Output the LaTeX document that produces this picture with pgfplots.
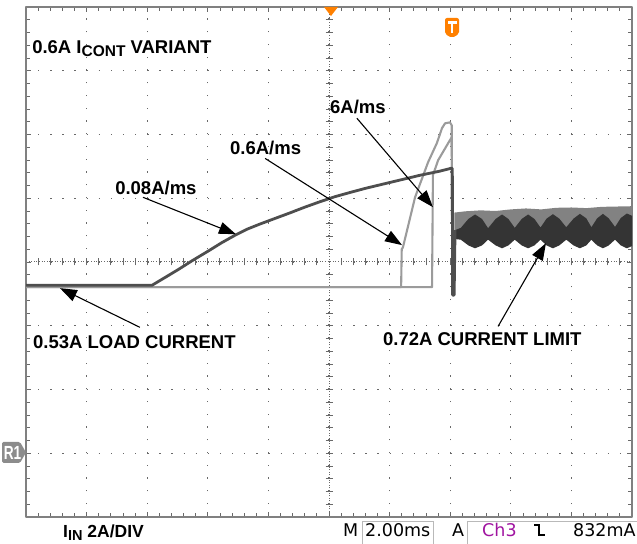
\documentclass[border=0pt]{standalone}
\usepackage{fontspec}
\setmainfont{Liberation Sans}
\newfontfamily\scopefont{DejaVu Sans}
\usepackage{pgfplots}
\pgfplotsset{compat=1.18}
\usetikzlibrary{arrows.meta}

\definecolor{framegray}{RGB}{128,128,128}
\definecolor{griddot}{RGB}{105,105,105}
\definecolor{darktrace}{RGB}{78,78,78}
\definecolor{lighttrace}{RGB}{155,155,155}
\definecolor{bandlight}{RGB}{130,130,130}
\definecolor{banddark}{RGB}{52,52,52}
\definecolor{tekorange}{RGB}{255,128,0}
\definecolor{chpurple}{RGB}{160,20,160}
\definecolor{r1gray}{RGB}{140,140,140}

\tikzset{
  note/.style={-{Triangle[length=17bp,width=12bp]}, line width=1.1bp, black},
  lab/.style={font=\fontsize{18.5bp}{21bp}\selectfont\bfseries, anchor=base west, inner sep=0pt},
  scopetxt/.style={font=\scopefont\fontsize{17.5bp}{20bp}\selectfont, anchor=base west, inner sep=0pt},
}

\begin{document}
\begin{tikzpicture}[x=1bp,y=1bp]
\path[use as bounding box] (-26,-27) rectangle (611,517);

% centre lines with their small ticks (divisions)
\begin{axis}[
  at={(0,0)}, anchor=south west,
  width=606bp, height=510bp, scale only axis,
  xmin=-5, xmax=5, ymin=-4, ymax=4,
  axis lines=center,
  axis line style={-, draw=griddot, line width=1bp, dash pattern=on 1bp off 1.6bp},
  xtick={-5,-4.8,...,5}, ytick={-4,-3.8,...,4},
  xticklabels={}, yticklabels={},
  tick align=center, major tick length=7bp,
  tick style={draw=griddot, line width=0.9bp},
]
\end{axis}

% the scope screen: time in ms (2 ms/div), current in A (0.2 A/div)
\begin{axis}[
  at={(0,0)}, anchor=south west,
  width=606bp, height=510bp, scale only axis,
  xmin=0, xmax=20, ymin=-0.2, ymax=1.4,
  xtick={0,2,...,20}, ytick={-0.2,0,...,1.4},
  xticklabels={}, yticklabels={},
  minor x tick num=4, minor y tick num=4,
  tick pos=both, tick align=inside,
  major tick length=5bp, minor tick length=4bp,
  tick style={draw=griddot, line width=0.8bp},
  axis line style={draw=framegray, line width=2.6bp},
  grid=major,
  x grid style={griddot, line width=1.3bp, dash pattern=on 1.3bp off 11.45bp},
  y grid style={griddot, line width=1.3bp, dash pattern=on 1.3bp off 10.82bp},
  line join=round,
]
% 0.6 A/ms ramp
\addplot[lighttrace, line width=2.1bp] coordinates {
(0,0.521) (12.38,0.521) (12.40,0.640) (12.44,0.646) (12.84,0.803)
(13.27,0.913) (13.56,0.973) (13.73,1.020) (13.83,1.035) (13.99,1.038)
(14.05,1.029) (14.07,0.50) (14.12,0.50) (14.14,0.70)
};
% 6 A/ms ramp
\addplot[lighttrace, line width=2.1bp] coordinates {
(0,0.521) (13.40,0.521) (13.43,0.872) (13.60,0.919) (13.99,0.982)
(14.05,0.991) (14.07,0.50) (14.12,0.50) (14.14,0.70)
};
% current limit, light envelope
\addplot[draw=none, fill=bandlight] coordinates {
(14.14,0.755) (14.5,0.759) (15.0,0.762) (15.5,0.760) (16.0,0.765)
(16.5,0.768) (17.0,0.765) (17.5,0.770) (18.0,0.771) (18.5,0.769)
(19.0,0.773) (19.5,0.774) (20,0.775)
(20,0.680) (14.14,0.680)
} -- cycle;
% current limit, dark envelope
\addplot[draw=none, fill=banddark] coordinates {
(14.16,0.700) (14.35,0.707) (14.60,0.735) (14.82,0.749) (15.05,0.735)
(15.25,0.706) (15.50,0.735) (15.71,0.749) (15.92,0.735) (16.13,0.707)
(16.36,0.735) (16.57,0.749) (16.78,0.735) (16.98,0.708) (17.18,0.736)
(17.39,0.750) (17.60,0.736) (17.83,0.709) (18.07,0.736) (18.28,0.751)
(18.49,0.737) (18.66,0.709) (18.85,0.737) (19.04,0.751) (19.23,0.737)
(19.44,0.710) (19.63,0.738) (19.83,0.752) (20,0.745)
(20,0.650) (19.83,0.643) (19.63,0.652) (19.44,0.670) (19.23,0.652)
(19.04,0.643) (18.85,0.652) (18.66,0.670) (18.49,0.652) (18.28,0.643)
(18.07,0.652) (17.83,0.670) (17.60,0.652) (17.39,0.643) (17.18,0.652)
(16.98,0.670) (16.78,0.652) (16.57,0.643) (16.36,0.652) (16.13,0.670)
(15.92,0.652) (15.71,0.643) (15.50,0.652) (15.25,0.670) (15.05,0.652)
(14.82,0.643) (14.60,0.652) (14.35,0.670) (14.16,0.672)
} -- cycle;
% 0.08 A/ms ramp
\addplot[darktrace, line width=2.8bp] coordinates {
(0,0.527) (4.16,0.527) (4.60,0.552) (5.02,0.576) (5.50,0.605)
(6.01,0.634) (6.45,0.660) (6.90,0.684) (7.30,0.703) (7.72,0.719)
(8.20,0.736) (8.71,0.754) (9.20,0.772) (9.70,0.789) (10.20,0.805)
(10.69,0.818) (11.20,0.831) (11.68,0.842) (12.34,0.857) (13.00,0.872)
(13.66,0.885) (14.03,0.894) (14.07,0.894)
(14.08,0.496) (14.13,0.496) (14.16,0.700)
};

\node[lab] at (axis cs:0.20,1.255) {0.6A I\raisebox{-3.5bp}{\fontsize{15.5bp}{18bp}\selectfont CONT} VARIANT};
\node[lab] at (axis cs:2.94,0.812) {0.08A/ms};
\node[lab] at (axis cs:6.73,0.937) {0.6A/ms};
\node[lab] at (axis cs:10.03,1.066) {6A/ms};
\node[lab] at (axis cs:0.23,0.329) {0.53A LOAD CURRENT};
\node[lab] at (axis cs:11.78,0.339) {0.72A CURRENT LIMIT};

\draw[note] (axis cs:3.86,0.803) -- (axis cs:6.93,0.687);
\draw[note] (axis cs:7.89,0.925) -- (axis cs:12.41,0.653);
\draw[note] (axis cs:10.92,1.051) -- (axis cs:13.43,0.772);
\draw[note] (axis cs:3.76,0.395) -- (axis cs:1.12,0.518);
\draw[note] (axis cs:15.58,0.398) -- (axis cs:17.16,0.659);
\end{axis}

% scope markers
\fill[tekorange] (298,510) -- (312,510) -- (305,501) -- cycle;
\fill[tekorange, rounded corners=2bp] (419,499) -- (433,499) -- (433,483) -- (426,479) -- (419,483) -- cycle;
\fill[white] (421.5,495.5) rectangle (430.5,493);
\fill[white] (424.7,495.5) rectangle (427.3,483.5);
\fill[r1gray, rounded corners=1.5bp] (-24,54) -- (-6,54) -- (0,64.5) -- (-6,75) -- (-24,75) -- cycle;
\node[font=\bfseries\fontsize{19bp}{21bp}\selectfont, text=white, inner sep=0pt] at (-13.5,64.5) {\scalebox{0.72}[1]{R1}};

% readout under the screen
\node[lab, font=\fontsize{17.5bp}{20bp}\selectfont\bfseries] at (37,-21) {I\raisebox{-3bp}{\fontsize{14.5bp}{17bp}\selectfont IN} 2A/DIV};
\node[scopetxt] at (317,-20) {M};
\draw[gray!55, line width=1bp] (336,-30) -- (336,-5) -- (407,-5) -- (407,-30);
\node[scopetxt] at (339,-20) {2.00ms};
\node[scopetxt] at (426,-20) {A};
\draw[gray!55, line width=1bp] (441,-30) -- (441,-5) -- (612,-5);
\node[scopetxt, text=chpurple] at (456,-20) {Ch3};
\draw[black, line width=1.8bp] (508,-8) -- (513,-8) -- (513,-18) -- (519,-18);
\node[scopetxt] at (547,-20) {832mA};
\end{tikzpicture}
\end{document}
